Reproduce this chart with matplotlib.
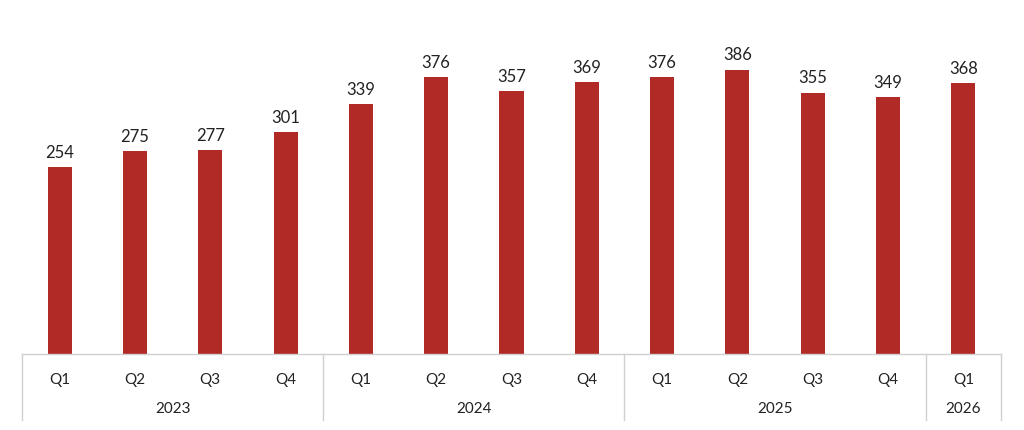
import matplotlib
matplotlib.use("Agg")
import matplotlib.pyplot as plt
from matplotlib.transforms import blended_transform_factory

quarters = ["Q1","Q2","Q3","Q4","Q1","Q2","Q3","Q4","Q1","Q2","Q3","Q4","Q1"]
years = ["2023","2024","2025","2026"]
year_counts = [4,4,4,1]
values = [254,275,277,301,339,376,357,369,376,386,355,349,368]

plt.rcParams['font.family'] = ['Lato', 'DejaVu Sans']
fig = plt.figure(figsize=(10.24,4.31), dpi=100)
ax = fig.add_axes([22/1024, (431-355)/431, (1001-22)/1024, 355/431])
x = list(range(len(values)))
color = "#B22A25"
ax.bar(x, values, width=0.32, color=color)
for xi, v in zip(x, values):
    ax.text(xi, v + 10, str(v), ha="center", va="bottom", fontsize=12, color="#222222")
ax.set_xlim(-0.5, len(values)-0.5)
ax.set_ylim(0, 482)
ax.axis("off")
gray = "#d0d0d0"
tr = blended_transform_factory(ax.transData, fig.transFigure)
y0 = (431-355)/431
ymid = (431-392)/431
ybot = (431-421)/431
ax.plot([-0.5, len(values)-0.5], [y0, y0], transform=tr, color=gray, lw=1, clip_on=False)
for xi, q in zip(x, quarters):
    ax.text(xi, (431-380)/431, q, transform=tr, ha="center", va="center", fontsize=11, color="#222222")
start = 0
bounds = [-0.5]
for yr, c in zip(years, year_counts):
    ax.text(start + (c-1)/2, (431-409)/431, yr, transform=tr, ha="center", va="center", fontsize=11, color="#222222")
    start += c
    bounds.append(start - 0.5)
for b in bounds:
    ax.plot([b, b], [y0, ybot], transform=tr, color=gray, lw=1, clip_on=False)
fig.savefig("out.png", dpi=100)
